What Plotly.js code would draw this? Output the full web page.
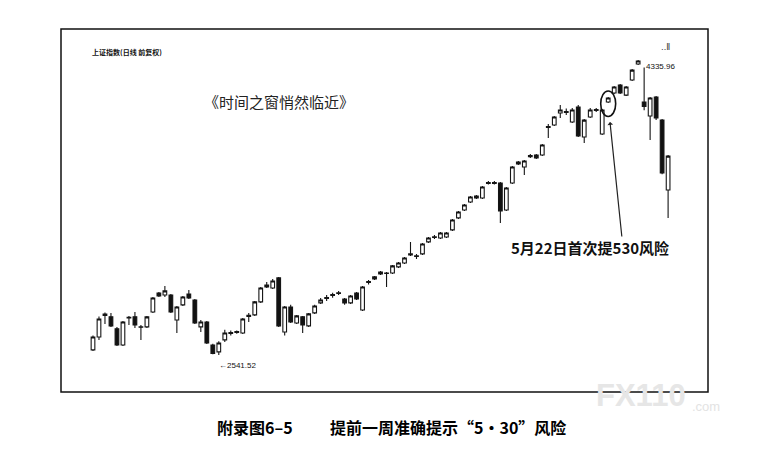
<!DOCTYPE html>
<html>
<head>
<meta charset="utf-8">
<script src="https://cdn.plot.ly/plotly-3.0.1.min.js"></script>
<style>
html,body{margin:0;padding:0;background:#fff;}
#chart{width:764px;height:452px;}
</style>
</head>
<body>
<div id="chart"></div>
<script>
// Shanghai Composite daily candles (approx. Jan–Jun 2007)
const openP  = [2572,2651,2790,2773,2700,2602,2766,2773,2712,2712,2803,2918,2906,2906,2754,2846,2912,2876,2712,2742,
                2602,2560,2633,2678,2684,2675,2782,2785,2864,2967,2949,3010,2681,2833,2736,2773,2718,2797,2858,2885,
                2903,2915,2882,2858,2918,2815,2982,3016,3046,3037,3040,3077,3101,3150,3140,3156,3229,3256,3253,3259,
                3302,3375,3423,3472,3508,3496,3584,3590,3587,3423,3587,3715,3685,3748,3758,3758,3925,3940,4013,4016,
                3958,4049,3867,3989,4028,3885,4080,4135,4183,4122,4214,4311,4080,3995,4110,3970,3545];
const highP  = [2660,2775,2800,2797,2712,2748,2779,2803,2724,2779,2894,2924,2961,2912,2839,2900,2937,2882,2754,2748,
                2610,2625,2694,2690,2690,2766,2797,2870,2955,2985,3004,3016,2839,2846,2785,2779,2797,2846,2888,2906,
                2920,2931,2888,2906,2924,2961,2998,3022,3052,3046,3089,3107,3137,3229,3156,3222,3259,3271,3289,3289,
                3368,3417,3460,3508,3514,3569,3600,3600,3593,3563,3691,3721,3727,3764,3764,3824,3946,3995,4062,4040,
                4043,4062,3976,4043,4043,4037,4110,4177,4189,4177,4280,4335.96,4290,4110,4116,3976,3758];
const lowP   = [2566,2633,2730,2712,2596,2596,2724,2706,2633,2706,2797,2894,2894,2797,2675,2839,2882,2730,2681,2608,
                2545,2541.52,2620,2660,2670,2669,2742,2779,2858,2949,2943,2712,2660,2736,2730,2675,2712,2791,2852,2870,
                2890,2906,2846,2852,2876,2809,2970,2998,3028,2955,3034,3070,3095,3143,3125,3150,3222,3247,3247,3253,
                3296,3369,3417,3466,3490,3490,3578,3578,3344,3417,3581,3697,3636,3740,3733,3752,3861,3934,3983,4001,
                3952,3867,3830,3983,4019,3879,4074,4129,4129,4116,4208,4305,4030,3849,3970,3640,3375];
const closeP = [2651,2760,2782,2718,2602,2742,2770,2724,2710,2773,2888,2900,2931,2803,2833,2894,2888,2736,2742,2614,
                2550,2614,2675,2672,2678,2760,2775,2864,2949,2955,2991,2718,2833,2742,2779,2724,2791,2839,2876,2890,
                2908,2920,2858,2900,2882,2955,2988,3004,3034,3040,3083,3101,3131,3156,3145,3216,3253,3260,3283,3283,
                3362,3411,3453,3502,3496,3563,3590,3585,3417,3557,3685,3703,3721,3754,3739,3818,3930,3989,4031,4022,
                4031,3873,3970,4031,4034,4031,4104,4171,4135,4171,4274,4329,4053,4104,3983,3648,3751];

const titleText   = '上证指数(日线 前复权)';
const headline    = '《时间之窗悄然临近》';
const noteText    = '5月22日首次提530风险';
const captionA    = '附录图6–5';
const captionB    = '提前一周准确提示“5・30”风险';
const circledIdx  = 86;   // 5月22日 candle

const xIdx = openP.map((_, i) => i);
const hiMax = Math.max(...highP), hiIdx = highP.indexOf(hiMax);
const loMin = Math.min(...lowP),  loIdx = lowP.indexOf(loMin);

const cjk = '"Noto Sans CJK SC", "Noto Sans", sans-serif';
const ink = '#151515';

const trace = {
  type: 'candlestick',
  x: xIdx, open: openP, high: highP, low: lowP, close: closeP,
  increasing: {line: {color: ink, width: 1.1}, fillcolor: '#ffffff'},
  decreasing: {line: {color: ink, width: 1.1}, fillcolor: '#111111'},
  whiskerwidth: 0,
  hoverinfo: 'skip',
  showlegend: false
};

const cMid = (highP[circledIdx] + lowP[circledIdx]) / 2;

const layout = {
  width: 764, height: 452,
  margin: {l: 61, r: 56, t: 29, b: 60},
  paper_bgcolor: '#ffffff', plot_bgcolor: '#ffffff',
  showlegend: false,
  boxgap: 0.12,
  xaxis: {range: [-5.34, 102.66], visible: false, rangeslider: {visible: false}, fixedrange: true},
  yaxis: {range: [2316, 4524], visible: false, fixedrange: true},
  shapes: [
    {type: 'rect', xref: 'paper', yref: 'paper', x0: 0, x1: 1, y0: 0, y1: 1,
     line: {color: '#111', width: 1.5}},
    {type: 'circle', xref: 'x', yref: 'y',
     x0: circledIdx - 1.25, x1: circledIdx + 1.25, y0: cMid - 100, y1: cMid + 55,
     line: {color: '#111', width: 1.6}}
  ],
  annotations: [
    {xref: 'paper', yref: 'paper', x: 0.0448, y: 0.9366, xanchor: 'left', yanchor: 'middle',
     text: '<b>' + titleText + '</b>', showarrow: false, font: {family: cjk, size: 7, color: '#111'}},
    {xref: 'paper', yref: 'paper', x: 0.2179, y: 0.7989, xanchor: 'left', yanchor: 'middle',
     text: headline, showarrow: false, font: {family: cjk, size: 15, color: '#222'}},
    {xref: 'paper', yref: 'paper', x: 0.6924, y: 0.3994, xanchor: 'left', yanchor: 'middle',
     text: '<b>' + noteText + '</b>', showarrow: false, font: {family: cjk, size: 15, color: '#111'}},
    {xref: 'x', yref: 'y', x: hiIdx, y: hiMax, xanchor: 'left', yanchor: 'middle', xshift: 6, yshift: -7,
     text: hiMax.toFixed(2), showarrow: false, font: {family: 'Arial, sans-serif', size: 8, color: '#111'}},
    {xref: 'x', yref: 'y', x: loIdx, y: loMin, xanchor: 'left', yanchor: 'middle', xshift: -2, yshift: -11,
     text: '←' + loMin.toFixed(2), showarrow: false, font: {family: 'Arial, sans-serif', size: 8, color: '#111'}},
    {xref: 'x', yref: 'y', x: circledIdx + 0.3, y: 3958, text: '', showarrow: true,
     ax: 12, ay: 116, arrowhead: 1, arrowsize: 0.8, arrowwidth: 1.2, arrowcolor: '#222'},
    {xref: 'paper', yref: 'paper', x: 0.935, y: 0.948, xanchor: 'center', yanchor: 'middle',
     text: '‥Ⅱ', showarrow: false, font: {family: 'DejaVu Sans', size: 8, color: '#333'}},
    {xref: 'paper', yref: 'paper', x: 0.824, y: -0.01, xanchor: 'left', yanchor: 'middle',
     text: '<b>FX110</b>', showarrow: false, font: {family: 'Arial, sans-serif', size: 31, color: '#e6e6e6'}},
    {xref: 'paper', yref: 'paper', x: 0.972, y: -0.04, xanchor: 'left', yanchor: 'middle',
     text: '.com', showarrow: false, font: {family: 'Arial, sans-serif', size: 13, color: '#e3e3e3'}},
    {xref: 'paper', yref: 'paper', x: 0.238, y: -0.0964, xanchor: 'left', yanchor: 'middle',
     text: '<b>' + captionA + '</b>', showarrow: false, font: {family: cjk, size: 16, color: '#000'}},
    {xref: 'paper', yref: 'paper', x: 0.4127, y: -0.0964, xanchor: 'left', yanchor: 'middle',
     text: '<b>' + captionB + '</b>', showarrow: false, font: {family: cjk, size: 16, color: '#000'}}
  ]
};

Plotly.newPlot('chart', [trace], layout, {staticPlot: true, displayModeBar: false});
</script>
</body>
</html>
